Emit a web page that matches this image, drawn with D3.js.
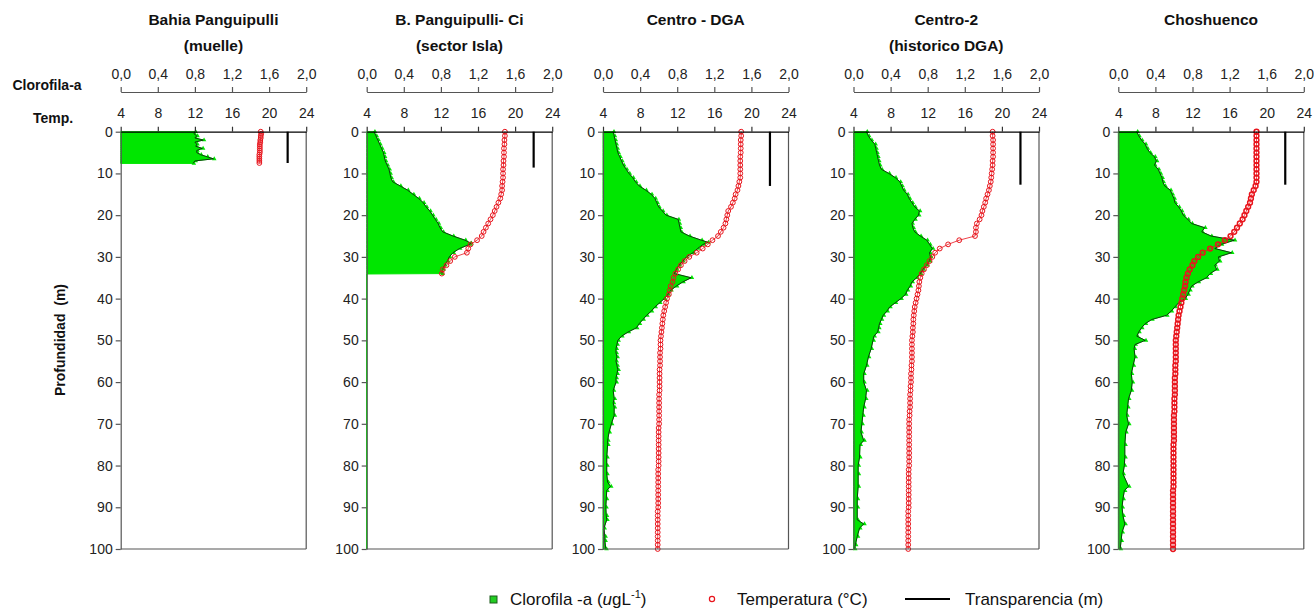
<!DOCTYPE html>
<html><head><meta charset="utf-8">
<script src="https://cdn.jsdelivr.net/npm/d3@7"></script>
<style>body{margin:0;background:#fff} text{font-family:"Liberation Sans",Arial,sans-serif}</style>
</head><body><svg id="c" width="1314" height="609"></svg>
<script>
// ---------- DATA ----------
const titles = [["Bahia Panguipulli","(muelle)"],["B. Panguipulli- Ci","(sector Isla)"],["Centro - DGA"],["Centro-2","(historico DGA)"],["Choshuenco"]];
const chlTicks = [0,0.4,0.8,1.2,1.6,2.0];
const tempTicks = [4,8,12,16,20,24];
const depthTicks = [0,10,20,30,40,50,60,70,80,90,100];

// Clorofila-a: [depth (m), value (ugL-1)]
const chl1 = [[0,0.80],[0.5,0.79],[1,0.82],[1.5,0.80],[2,0.89],[2.5,0.80],[3,0.82],[3.5,0.81],[4,0.88],[4.5,0.82],[5,0.82],[5.5,0.86],[6,0.93],[6.5,1.0],[7,0.80],[7.6,0.78]];
const chl2 = [[0,0.08],[1,0.10],[2,0.12],[3,0.14],[4,0.16],[5,0.18],[6,0.19],[7,0.20],[8,0.22],[9,0.24],[10,0.25],[11,0.26],[12,0.28],[13,0.36],[14,0.44],[15,0.50],[16,0.56],[17,0.61],[18,0.64],[19,0.68],[20,0.71],[21,0.74],[22,0.77],[23,0.79],[24,0.82],[25,0.93],[26,1.06],[26.7,1.12],[27,1.11],[28,1.00],[29,0.93],[30,0.89],[31,0.87],[32,0.84],[33,0.82],[34,0.81],[34.1,0],[100,0]];
const chl3 = [[0,0.11],[1,0.12],[2,0.13],[3,0.14],[4,0.15],[5,0.16],[6,0.18],[7,0.20],[8,0.22],[9,0.25],[10,0.28],[11,0.32],[12,0.35],[13,0.39],[14,0.46],[15,0.52],[16,0.56],[17,0.58],[18,0.60],[19,0.64],[20,0.68],[21,0.81],[22,0.82],[23,0.83],[24,0.84],[25,0.93],[26,1.06],[26.5,1.13],[27,1.08],[28,1.02],[29,0.97],[30,0.90],[31,0.86],[32,0.82],[33,0.79],[34,0.77],[35,0.95],[36,0.86],[37,0.79],[38,0.73],[39,0.70],[40,0.66],[41,0.61],[42,0.56],[43,0.52],[44,0.47],[45,0.43],[46,0.39],[47,0.36],[48,0.27],[49,0.20],[50,0.16],[51,0.15],[52,0.14],[53,0.14],[54,0.15],[55,0.14],[56,0.15],[57,0.16],[58,0.15],[59,0.14],[60,0.14],[62,0.11],[64,0.12],[65,0.11],[66,0.12],[68,0.12],[70,0.09],[72,0.065],[74,0.05],[75,0.05],[78,0.04],[80,0.04],[82,0.04],[84,0.05],[85,0.08],[86,0.04],[88,0.035],[90,0.03],[92,0.035],[93,0.04],[95,0.01],[97,0.02],[98,0.02],[100,0.03]];
const chl4 = [[0,0.14],[1,0.16],[2,0.19],[3,0.23],[4,0.24],[5,0.25],[6,0.26],[7,0.27],[8,0.28],[9,0.30],[10,0.38],[11,0.45],[12,0.50],[13,0.52],[14,0.54],[15,0.58],[16,0.60],[17,0.63],[18,0.66],[19,0.71],[20,0.70],[21,0.66],[22,0.63],[23,0.64],[24,0.66],[25,0.72],[26,0.79],[27,0.82],[28,0.85],[29,0.82],[30,0.83],[31,0.82],[32,0.79],[33,0.75],[34,0.72],[35,0.68],[36,0.63],[37,0.61],[38,0.58],[39,0.56],[40,0.51],[41,0.45],[42,0.39],[43,0.36],[44,0.32],[45,0.30],[46,0.28],[47,0.27],[48,0.26],[49,0.22],[50,0.21],[52,0.19],[54,0.16],[56,0.14],[58,0.11],[60,0.11],[62,0.14],[64,0.13],[66,0.11],[68,0.10],[70,0.09],[72,0.08],[74,0.11],[75,0.07],[78,0.065],[80,0.05],[82,0.05],[85,0.05],[88,0.04],[90,0.04],[93,0.04],[94,0.11],[95,0.065],[97,0.04],[99,0.02],[100,0.01]];
const chl5 = [[0,0.20],[1,0.22],[2,0.25],[3,0.29],[4,0.31],[5,0.34],[6,0.39],[7,0.41],[8,0.39],[9,0.43],[10,0.45],[11,0.47],[12,0.48],[13,0.50],[14,0.56],[15,0.58],[16,0.60],[17,0.61],[18,0.65],[19,0.68],[20,0.70],[21,0.75],[22,0.79],[23,0.93],[24,0.90],[25,1.00],[26,1.25],[27,1.11],[28,1.04],[29,1.22],[30,1.08],[31,1.09],[32,1.04],[33,1.06],[34,0.99],[35,0.95],[36,0.86],[37,0.79],[38,0.77],[39,0.75],[40,0.72],[41,0.65],[42,0.61],[43,0.57],[44,0.52],[45,0.36],[46,0.29],[47,0.25],[48,0.22],[49,0.20],[50,0.29],[51,0.18],[52,0.17],[54,0.18],[56,0.16],[58,0.14],[60,0.15],[62,0.14],[64,0.11],[66,0.10],[68,0.09],[70,0.11],[72,0.08],[75,0.07],[78,0.07],[80,0.065],[82,0.05],[85,0.11],[86,0.065],[88,0.05],[90,0.04],[92,0.05],[94,0.07],[96,0.04],[98,0.03],[100,0.02]];

// Temperatura (°C)
const tempDepth1 = [0,0.5,1,1.5,2,2.5,3,3.5,4,4.5,5,5.5,6,6.5,7,7.5];
const temp1 = [19.1,19.15,19.1,19.1,19.05,19.05,19.0,19.0,19.0,19.0,19.0,18.95,18.95,18.95,18.95,18.95];
const tempDepth2 = [0,1,2,3,4,5,6,7,8,9,10,11,12,13,14,15,16,17,18,19,20,21,22,23,24,25,26,27,28,29,30,31,32,33,34];
const temp2 = [18.9,18.9,18.85,18.85,18.8,18.8,18.8,18.75,18.75,18.7,18.7,18.7,18.65,18.6,18.6,18.5,18.4,18.2,18.0,17.8,17.6,17.35,17.1,16.85,16.6,16.4,15.9,15.2,14.95,14.8,13.5,13.0,12.6,12.2,12.1];
const tempDepthFull = d3.range(0,101);
const temp3 = [18.9,18.9,18.85,18.85,18.85,18.85,18.8,18.8,18.8,18.8,18.8,18.8,18.7,18.6,18.5,18.3,18.2,18.0,17.8,17.5,17.4,17.3,17.2,17.0,16.7,16.4,15.8,15.3,14.75,14.1,13.3,12.8,12.4,12.1,11.8,11.6,11.5,11.3,11.2,11.1,10.9,10.8,10.7,10.6,10.5,10.45,10.4,10.35,10.3,10.25,10.2,10.2,10.2,10.15,10.15,10.15,10.15,10.1,10.1,10.1,10.1,10.1,10.1,10.05,10.05,10.05,10.05,10.05,10.05,10.05,10.05,10.0,10.0,10.0,10.0,10.0,10.0,10.0,10.0,10.0,10.0,9.95,9.95,9.95,9.95,9.95,9.95,9.95,9.95,9.95,9.95,9.9,9.9,9.9,9.9,9.9,9.9,9.9,9.9,9.9,9.9];
const temp4 = [19.0,19.0,19.05,19.05,19.05,19.05,19.05,19.0,19.0,18.95,18.9,18.85,18.8,18.7,18.6,18.45,18.3,18.2,18.05,17.9,17.8,17.6,17.3,17.2,17.2,17.1,15.4,14.2,13.3,12.8,12.5,12.2,11.9,11.6,11.35,11.2,11.1,11.05,11.0,10.9,10.8,10.7,10.6,10.55,10.5,10.45,10.45,10.4,10.4,10.35,10.3,10.3,10.3,10.3,10.3,10.3,10.25,10.25,10.2,10.2,10.2,10.15,10.15,10.1,10.1,10.1,10.1,10.05,10.05,10.0,10.0,10.0,10.0,10.0,10.0,10.0,10.0,10.0,10.0,10.0,10.0,9.95,9.95,9.95,9.95,9.95,9.95,9.95,9.95,9.95,9.95,9.9,9.9,9.9,9.9,9.9,9.9,9.9,9.9,9.9,9.9];
const temp5 = [18.9,18.9,18.9,18.9,18.9,18.9,18.9,18.9,18.9,18.9,18.9,18.9,18.9,18.8,18.6,18.4,18.3,18.2,18.0,17.8,17.6,17.4,17.1,16.8,16.5,16.1,15.5,14.75,13.9,13.1,12.6,12.2,12.0,11.7,11.5,11.35,11.25,11.2,11.1,11.0,10.9,10.8,10.7,10.6,10.5,10.45,10.4,10.35,10.3,10.25,10.2,10.2,10.2,10.2,10.2,10.2,10.15,10.15,10.15,10.1,10.1,10.1,10.1,10.1,10.05,10.05,10.05,10.05,10.0,10.0,10.0,10.0,10.0,10.0,10.0,9.95,9.95,9.95,9.95,9.95,9.95,9.95,9.95,9.95,9.95,9.95,9.9,9.9,9.9,9.9,9.9,9.9,9.9,9.9,9.9,9.9,9.9,9.9,9.9,9.9,9.9];

// Transparencia (m) - Secchi depth, drawn at temperature-axis position 22
const secchi = [7.5, 8.6, 13.0, 12.7, 12.7];
const secchiX = 22;

const chlSeries = [chl1, chl2, chl3, chl4, chl5];
const tempSeries = [
  tempDepth1.map((d,i)=>[d,temp1[i]]),
  tempDepth2.map((d,i)=>[d,temp2[i]]),
  tempDepthFull.map((d,i)=>[d,temp3[i]]),
  tempDepthFull.map((d,i)=>[d,temp4[i]]),
  tempDepthFull.map((d,i)=>[d,temp5[i]])
];

// ---------- LAYOUT ----------
const lefts = [120.7, 366.7, 603, 853.5, 1118.3];
const pw = 185.5;
const yTop = 131.7, yBot = 549;
const chlAxisY = 92;
const GREEN = "#00e600", RED = "#e8141c", FRAME = "#555";

const svg = d3.select("#c");
const y = d3.scaleLinear().domain([0,100]).range([yTop,yBot]);
const fmtC = v => d3.format(".1f")(v).replace(".", ",");
const tri = d3.symbol().type(d3.symbolTriangle).size(9);

lefts.forEach((L, k) => {
  const g = svg.append("g");
  const xc = d3.scaleLinear().domain([0,2]).range([L, L+pw]);
  const xt = d3.scaleLinear().domain([4,24]).range([L, L+pw]);

  // titles
  titles[k].forEach((t,i) => {
    g.append("text").attr("x", L+pw/2).attr("y", 25 + i*26).attr("text-anchor","middle")
      .attr("font-size", 15.5).attr("font-weight","bold").attr("fill","#111").text(t);
  });

  // chlorophyll area
  const data = chlSeries[k];
  g.append("path").datum(data)
    .attr("d", d3.area().x0(xc(0)).x1(d=>xc(d[1])).y(d=>y(d[0])))
    .attr("fill", GREEN).attr("stroke", GREEN).attr("stroke-width", 1);
  g.selectAll("path.m").data(data.filter(d=>d[1]>0)).join("path").attr("class","m")
    .attr("d", tri).attr("transform", d=>`translate(${xc(d[1])+0.8},${y(d[0])})`)
    .attr("fill", GREEN);
  g.append("path").datum(data)
    .attr("d", d3.line().defined(d=>d[1]>0).x(d=>xc(d[1])).y(d=>y(d[0])))
    .attr("fill","none").attr("stroke","#111").attr("stroke-width",0.8);

  // temperature
  const td = tempSeries[k];
  g.append("path").datum(td)
    .attr("d", d3.line().x(d=>xt(d[1])).y(d=>y(d[0])))
    .attr("fill","none").attr("stroke",RED).attr("stroke-width",0.8);
  g.selectAll("circle.t").data(td).join("circle")
    .attr("cx", d=>xt(d[1])).attr("cy", d=>y(d[0])).attr("r", 2.4)
    .attr("fill","none").attr("stroke",RED).attr("stroke-width", k===4 ? 1.5 : 1);

  // transparency
  g.append("line").attr("x1", xt(secchiX)).attr("x2", xt(secchiX))
    .attr("y1", y(0)).attr("y2", y(secchi[k]))
    .attr("stroke","#000").attr("stroke-width",2.2);

  // frame
  g.append("line").attr("x1",L+pw).attr("x2",L+pw).attr("y1",yTop).attr("y2",yBot).attr("stroke",FRAME).attr("stroke-width",1.2);
  g.append("line").attr("x1",L).attr("x2",L+pw).attr("y1",yBot).attr("y2",yBot).attr("stroke",FRAME).attr("stroke-width",1.2);

  // depth axis
  const ya = g.append("g").attr("transform",`translate(${L},0)`)
    .call(d3.axisLeft(y).tickValues(depthTicks).tickSize(5).tickSizeOuter(0).tickPadding(3));
  ya.select(".domain").attr("stroke",FRAME).attr("stroke-width",1.2);
  ya.selectAll(".tick line").attr("stroke",FRAME).attr("stroke-width",1.2);
  ya.selectAll("text").attr("font-size",14).attr("fill","#222").attr("font-family",null);

  // temperature axis (top of plot)
  const ta = g.append("g").attr("transform",`translate(0,${yTop})`)
    .call(d3.axisTop(xt).tickValues(tempTicks).tickSize(5).tickSizeOuter(0).tickPadding(9).tickFormat(d3.format("d")));
  ta.select(".domain").attr("stroke","#000").attr("stroke-width",1.3);
  ta.selectAll(".tick line").attr("stroke","#333").attr("stroke-width",1.2);
  ta.selectAll("text").attr("font-size",14).attr("fill","#222").attr("font-family",null);

  // chlorophyll axis
  const ca = g.append("g").attr("transform",`translate(0,${chlAxisY})`)
    .call(d3.axisTop(xc).tickValues(chlTicks).tickSize(5).tickSizeOuter(0).tickPadding(8).tickFormat(fmtC));
  ca.select(".domain").attr("stroke",FRAME).attr("stroke-width",1.2);
  ca.selectAll(".tick line").attr("stroke",FRAME).attr("stroke-width",1.2);
  ca.selectAll("text").attr("font-size",14).attr("fill","#222").attr("font-family",null);
});

// side labels
svg.append("text").attr("x",47).attr("y",90).attr("text-anchor","middle").attr("font-size",14)
  .attr("font-weight","bold").attr("fill","#111").text("Clorofila-a");
svg.append("text").attr("x",53).attr("y",123).attr("text-anchor","middle").attr("font-size",14)
  .attr("font-weight","bold").attr("fill","#111").text("Temp.");
svg.append("text").attr("transform","translate(65,340) rotate(-90)").attr("text-anchor","middle")
  .attr("font-size",14).attr("font-weight","bold").attr("fill","#111").attr("xml:space","preserve")
  .text("Profundidad  (m)");

// legend
const lg = svg.append("g").attr("font-size",17).attr("fill","#111");
lg.append("rect").attr("x",490).attr("y",596).attr("width",7).attr("height",7)
  .attr("fill","#22cc22").attr("stroke","#1d5a1d").attr("stroke-width",1);
const t1 = lg.append("text").attr("x",510).attr("y",605);
t1.append("tspan").text("Clorofila -a (");
t1.append("tspan").attr("font-style","italic").text("u");
t1.append("tspan").text("gL");
t1.append("tspan").attr("font-size",11).attr("dy",-7).text("-1");
t1.append("tspan").attr("dy",7).text(")");
lg.append("circle").attr("cx",712).attr("cy",599).attr("r",2.6).attr("fill","none").attr("stroke",RED).attr("stroke-width",1.2);
lg.append("text").attr("x",737).attr("y",605).text("Temperatura (°C)");
lg.append("line").attr("x1",905).attr("x2",950).attr("y1",599).attr("y2",599).attr("stroke","#000").attr("stroke-width",2.2);
lg.append("text").attr("x",965).attr("y",605).text("Transparencia (m)");
</script></body></html>
